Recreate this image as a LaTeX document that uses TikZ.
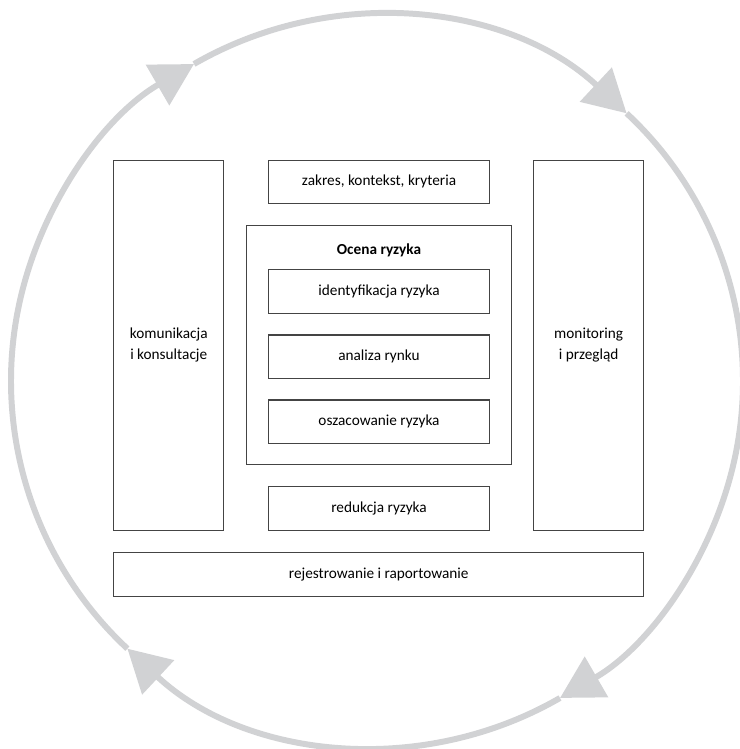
\documentclass[tikz,border=0pt]{standalone}
\usepackage{fontspec}
\setmainfont{Carlito}
\usetikzlibrary{arrows.meta}
\definecolor{ringgray}{RGB}{209,210,212}
\definecolor{boxline}{RGB}{68,68,68}

\begin{document}
\begin{tikzpicture}[x=0.02cm,y=0.02cm,
    ring/.style={draw=ringgray, line width=3.4pt, -{Triangle[length=24pt,width=26pt]}},
    box/.style={draw=boxline, line width=0.6pt, align=center, font=\fontsize{8.7}{12.3}\selectfont},
    smallbox/.style={box, minimum width=4.43cm, minimum height=0.87cm},
    sidebox/.style={box, minimum width=2.206cm, minimum height=7.4cm}]
    \useasboundingbox (0,0) rectangle (739,749);
    % cycle round the whole process
    \coordinate (c) at (377,368);
    \draw[ring] (c) ++(120:366) arc (120:47:366);
    \draw[ring] (c) ++(47:366) arc (47:-60:366);
    \draw[ring] (c) ++(-60:366) arc (-60:-133:366);
    \draw[ring] (c) ++(227:366) arc (227:120:366);
    % boxes
    \node[sidebox] (kom) at (168.75,403.8) {komunikacja\\i konsultacje};
    \node[sidebox] (mon) at (588.65,403.8) {monitoring\\i przegląd};
    \node[smallbox] (zakres) at (379,567.1) {zakres, kontekst, kryteria};
    \node[box, minimum width=5.3cm, minimum height=4.78cm] (ocena) at (379,403.75) {};
    \node[font=\fontsize{8.7}{12.3}\selectfont\bfseries] (tytul) at (379,498.3) {Ocena ryzyka};
    \node[smallbox] (ident) at (379,457.7) {identyfikacja ryzyka};
    \node[smallbox] (analiza) at (379,392.25) {analiza rynku};
    \node[smallbox] (oszac) at (379,327.25) {oszacowanie ryzyka};
    \node[smallbox] (redukcja) at (379,240.45) {redukcja ryzyka};
    \node[box, minimum width=10.6cm, minimum height=0.876cm] (rej) at (378.7,174.7) {rejestrowanie i raportowanie};
\end{tikzpicture}
\end{document}
